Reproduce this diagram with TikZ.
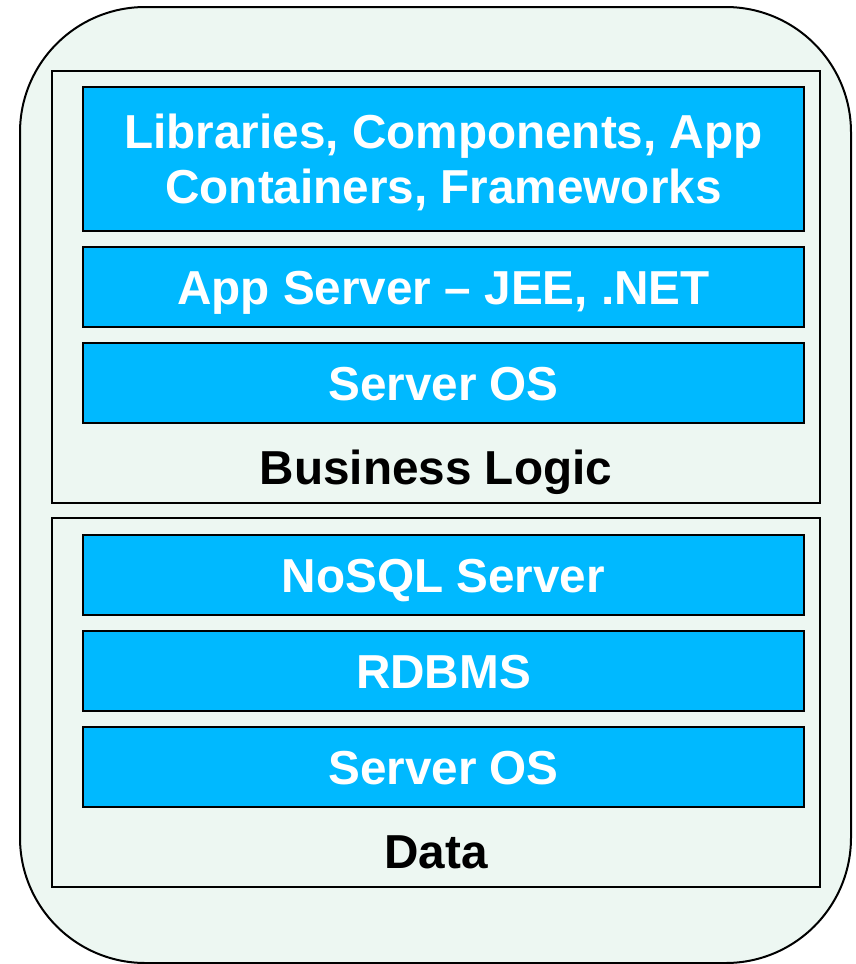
\documentclass[tikz,border=0pt]{standalone}
\usepackage{fontspec}
\setmainfont{Liberation Sans}
\definecolor{bluebox}{RGB}{0,185,255}
\definecolor{paleback}{RGB}{237,247,242}
\begin{document}
\begin{tikzpicture}[x=0.75pt,y=-0.75pt,
  bigfont/.style={font=\fontsize{35.75}{41.25}\selectfont\bfseries,text height=25.6pt,text depth=0pt},
  layer/.style={draw=black,line width=1.5pt,fill=bluebox,inner sep=0pt,
    minimum width=540.75pt,minimum height=60pt,text=white,align=center,bigfont},
  tier/.style={draw=black,line width=1.5pt,fill=paleback,inner sep=0pt,minimum width=576pt},
  tierlabel/.style={text=black,inner sep=0pt,bigfont}]
\useasboundingbox (0,0) rectangle (856,964);
\node[draw=black,line width=1.5pt,fill=paleback,rounded corners=94pt,inner sep=0pt,
  minimum width=623.25pt,minimum height=717pt] (outer) at (435.5,485) {};
\node[tier,minimum height=324pt] (biz) at (436,287) {};
\node[tier,minimum height=276.75pt] (data) at (436,702.5) {};
\node[layer,minimum height=108pt,text height=66.85pt] (libs) at (443.5,159) {Libraries, Components, App\\Containers, Frameworks};
\node[layer] (app) at (443.5,287) {App Server -- JEE, .NET};
\node[layer] (os1) at (443.5,383) {Server OS};
\node[tierlabel] (bizlabel) at (436,467.5) {Business Logic};
\node[layer] (nosql) at (443.5,575) {NoSQL Server};
\node[layer] (rdbms) at (443.5,671) {RDBMS};
\node[layer] (os2) at (443.5,767) {Server OS};
\node[tierlabel] (datalabel) at (436,851) {Data};
\end{tikzpicture}
\end{document}
